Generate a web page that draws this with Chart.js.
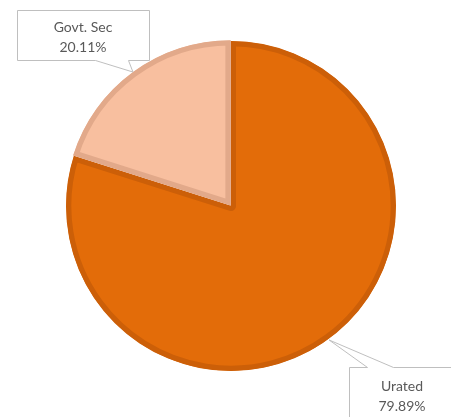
<!DOCTYPE html>
<html>
<head>
<meta charset="utf-8">
<script src="https://cdn.jsdelivr.net/npm/chart.js@4.4.1/dist/chart.umd.min.js"></script>
<style>
  html, body { margin: 0; padding: 0; background: #fff; }
  #wrap { width: 451px; height: 417px; }
</style>
</head>
<body>
<div id="wrap"><canvas id="pieChart" width="451" height="417"></canvas></div>
<script>
// Holdings split
const labels = ['Urated', 'Govt. Sec'];
const shares = [79.89, 20.11];
const fills = ['#E36C09', '#F8BF9F'];
const edges = ['#CC5F08', '#E2A98A'];
const offsets = [0, 4];

// Callout boxes: rect plus the base of the pointer on one of its edges
const callouts = [
    { box: [349, 367, 130, 70], base: [367, 393], side: 'top', text: [402, 386] },
    { box: [17, 10, 132, 50], base: [95, 128], side: 'bottom', text: [83, 27] }
];

const calloutPlugin = {
    id: 'callouts',
    afterDatasetsDraw(chart) {
        const ctx = chart.ctx;
        const arcs = chart.getDatasetMeta(0).data;
        ctx.save();
        arcs.forEach((arc, i) => {
            const c = callouts[i];
            const mid = (arc.startAngle + arc.endAngle) / 2;
            const r = arc.outerRadius + 1;
            const tipX = arc.x + Math.cos(mid) * r;
            const tipY = arc.y + Math.sin(mid) * r;
            const [bx, by, bw, bh] = c.box;

            ctx.beginPath();
            ctx.moveTo(bx + 0.5, by + 0.5);
            if (c.side === 'top') {
                ctx.lineTo(c.base[0] + 0.5, by + 0.5);
                ctx.lineTo(tipX, tipY);
                ctx.lineTo(c.base[1] + 0.5, by + 0.5);
                ctx.lineTo(bx + bw + 0.5, by + 0.5);
                ctx.lineTo(bx + bw + 0.5, by + bh + 0.5);
                ctx.lineTo(bx + 0.5, by + bh + 0.5);
            } else {
                ctx.lineTo(bx + bw + 0.5, by + 0.5);
                ctx.lineTo(bx + bw + 0.5, by + bh + 0.5);
                ctx.lineTo(c.base[1] + 0.5, by + bh + 0.5);
                ctx.lineTo(tipX, tipY);
                ctx.lineTo(c.base[0] + 0.5, by + bh + 0.5);
                ctx.lineTo(bx + 0.5, by + bh + 0.5);
            }
            ctx.closePath();
            ctx.fillStyle = '#ffffff';
            ctx.fill();
            ctx.strokeStyle = '#BFBFBF';
            ctx.lineWidth = 1;
            ctx.stroke();

            ctx.fillStyle = '#595959';
            ctx.font = '14px Lato, "Open Sans", sans-serif';
            ctx.textAlign = 'center';
            ctx.textBaseline = 'middle';
            ctx.fillText(labels[i], c.text[0], c.text[1]);
            ctx.fillText(shares[i].toFixed(2) + '%', c.text[0], c.text[1] + 20);
        });
        ctx.restore();
    }
};

new Chart(document.getElementById('pieChart'), {
    type: 'pie',
    data: {
        labels: labels,
        datasets: [{
            data: shares,
            backgroundColor: fills,
            borderColor: edges,
            borderWidth: 5,
            borderAlign: 'inner',
            offset: offsets
        }]
    },
    options: {
        responsive: false,
        animation: false,
        radius: 165,
        layout: { padding: { left: 40, right: 29, top: 10, bottom: 15 } },
        plugins: {
            legend: { display: false },
            tooltip: { enabled: false }
        }
    },
    plugins: [calloutPlugin]
});
</script>
</body>
</html>
